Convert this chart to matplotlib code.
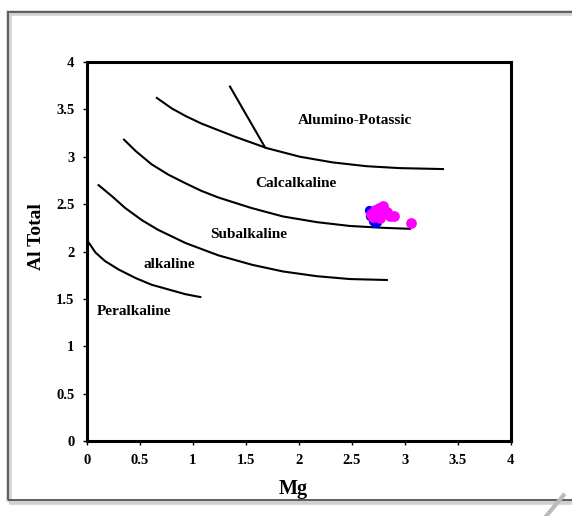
import matplotlib.pyplot as plt
from matplotlib.patches import Rectangle

# Boundary curves
peral_x = [0.02, 0.08, 0.17, 0.30, 0.46, 0.61, 0.77, 0.93, 1.07]
peral_y = [2.09, 1.99, 1.90, 1.81, 1.72, 1.65, 1.60, 1.55, 1.52]
alk_x = [0.11, 0.24, 0.36, 0.52, 0.67, 0.93, 1.24, 1.56, 1.85, 2.17, 2.48, 2.83]
alk_y = [2.70, 2.58, 2.46, 2.33, 2.23, 2.09, 1.96, 1.86, 1.79, 1.74, 1.71, 1.70]
sub_x = [0.35, 0.46, 0.61, 0.77, 0.93, 1.08, 1.24, 1.55, 1.85, 2.17, 2.48, 2.80, 3.05]
sub_y = [3.18, 3.06, 2.92, 2.81, 2.72, 2.64, 2.57, 2.46, 2.37, 2.31, 2.27, 2.25, 2.24]
calc_x = [0.66, 0.80, 0.93, 1.08, 1.24, 1.40, 1.55, 1.70, 2.01, 2.32, 2.64, 2.95, 3.36]
calc_y = [3.62, 3.51, 3.43, 3.35, 3.28, 3.21, 3.15, 3.09, 3.00, 2.94, 2.90, 2.88, 2.87]
tie_x = [1.35, 1.68]
tie_y = [3.74, 3.10]

# Samples
blue_x = [2.66, 2.67, 2.70, 2.74, 2.72]
blue_y = [2.44, 2.38, 2.32, 2.31, 2.30]
magenta_x = [2.68, 2.72, 2.76, 2.79, 2.80, 2.74, 2.70, 2.83, 2.86, 2.90, 2.77, 3.06]
magenta_y = [2.40, 2.44, 2.46, 2.48, 2.43, 2.38, 2.36, 2.42, 2.38, 2.38, 2.35, 2.30]

# Field names and label positions
fields = ['Alumino-Potassic', 'Calcalkaline', 'Subalkaline', 'alkaline', 'Peralkaline']
field_x = [2.53, 1.97, 1.53, 0.78, 0.44]
field_y = [3.38, 2.72, 2.18, 1.86, 1.37]

plt.rcParams['font.family'] = ['Liberation Serif', 'DejaVu Serif']

fig = plt.figure(figsize=(5.72, 5.16), dpi=100)
ax = fig.add_axes([0.152, 0.145, 0.741, 0.735])

# outer frame with a soft shadow
fig.patches.append(Rectangle((0.016, 0.028), 1.0, 0.946, transform=fig.transFigure,
                             fill=False, edgecolor='#d0d0d0', linewidth=4, zorder=0))
fig.patches.append(Rectangle((0.014, 0.031), 1.0, 0.946, transform=fig.transFigure,
                             fill=False, edgecolor='#555555', linewidth=1.3, zorder=1))
fig.lines.append(plt.Line2D([0.955, 0.985], [0.0, 0.04], transform=fig.transFigure,
                            color='#bbbbbb', linewidth=3))

for xs, ys in [(peral_x, peral_y), (alk_x, alk_y), (sub_x, sub_y), (calc_x, calc_y), (tie_x, tie_y)]:
    ax.plot(xs, ys, color='black', linewidth=1.5, solid_joinstyle='round')

ax.scatter(blue_x, blue_y, s=45, color='#0000ff', linewidths=0, zorder=3)
ax.scatter(magenta_x, magenta_y, s=60, color='#ff00ff', linewidths=0, zorder=4)

for name, fx, fy in zip(fields, field_x, field_y):
    ax.text(fx, fy, name, ha='center', va='center', fontsize=11, fontweight='bold')

ticks = [0, 0.5, 1, 1.5, 2, 2.5, 3, 3.5, 4]
tick_labels = ['0', '0.5', '1', '1.5', '2', '2.5', '3', '3.5', '4']
ax.set_xlim(0, 4)
ax.set_ylim(0, 4)
ax.set_xticks(ticks)
ax.set_xticklabels(tick_labels)
ax.set_yticks(ticks)
ax.set_yticklabels(tick_labels)
ax.tick_params(direction='out', length=3, width=1, labelsize=10.5, pad=6)
for lab in ax.get_xticklabels() + ax.get_yticklabels():
    lab.set_fontweight('bold')
for sp in ax.spines.values():
    sp.set_linewidth(2.2)

ax.set_xlabel('Mg', fontsize=14.5, fontweight='bold')
ax.set_ylabel('Al Total', fontsize=14, fontweight='bold')
ax.xaxis.set_label_coords(0.486, -0.10)
ax.yaxis.set_label_coords(-0.10, 0.54)

fig.savefig('out.png', dpi=100)
